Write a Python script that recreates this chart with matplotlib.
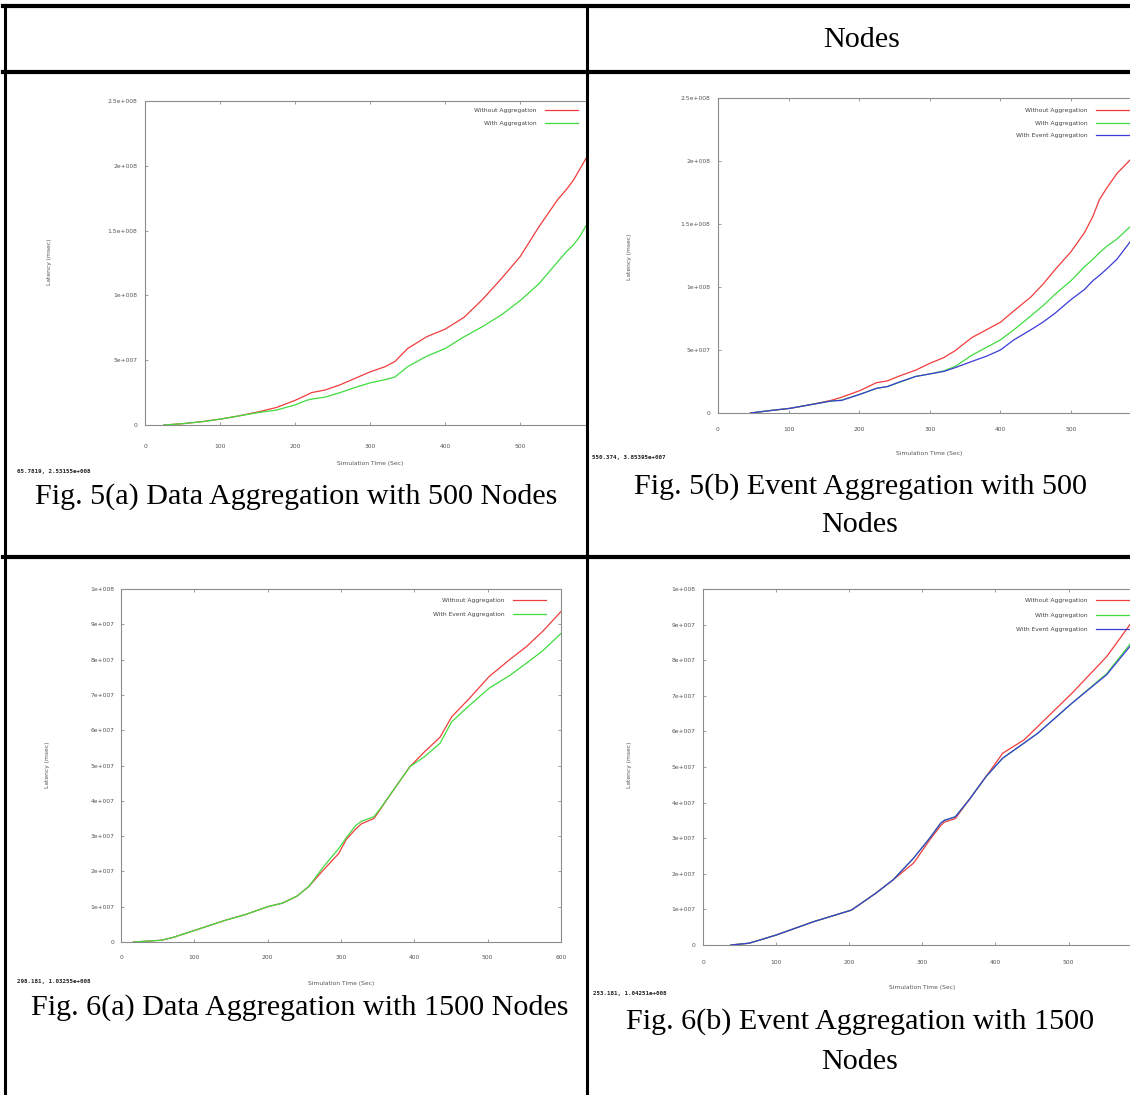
import matplotlib
matplotlib.use('Agg')
import matplotlib.pyplot as plt
from matplotlib.lines import Line2D

# ---- data (latency in units of 1e7 msec) ----
t_5a = [25, 50, 75, 100, 125, 150, 175, 200, 215, 222, 240, 260, 280, 300, 320, 333,
        350, 375, 400, 425, 450, 475, 500, 525, 550, 562, 571, 580, 589]
without_5a = [0, 0.1, 0.25, 0.45, 0.7, 1.0, 1.35, 1.9, 2.3, 2.5, 2.7, 3.1, 3.6, 4.1, 4.5, 4.9,
              5.9, 6.8, 7.4, 8.3, 9.7, 11.3, 13.0, 15.3, 17.4, 18.2, 18.9, 19.8, 20.7]
with_5a = [0, 0.1, 0.25, 0.45, 0.7, 0.95, 1.15, 1.55, 1.9, 2.0, 2.15, 2.5, 2.9, 3.25, 3.5, 3.7,
           4.5, 5.3, 5.9, 6.8, 7.6, 8.5, 9.6, 10.9, 12.6, 13.4, 13.9, 14.6, 15.5]

t_5b = [46, 75, 102, 130, 160, 175, 202, 224, 240, 258, 280, 300, 320, 336, 360, 380,
        400, 419, 443, 460, 477, 500, 519, 531, 540, 550, 565, 584]
without_5b = [0, 0.2, 0.37, 0.65, 1.0, 1.25, 1.8, 2.4, 2.55, 2.96, 3.4, 3.94, 4.4, 4.95, 6.0, 6.6,
              7.2, 8.1, 9.2, 10.2, 11.35, 12.8, 14.3, 15.6, 16.9, 17.8, 19.0, 20.1]
with_5b = [0, 0.2, 0.37, 0.65, 0.95, 1.02, 1.5, 1.95, 2.1, 2.45, 2.9, 3.1, 3.35, 3.7, 4.6, 5.2,
           5.8, 6.6, 7.7, 8.5, 9.4, 10.5, 11.6, 12.2, 12.7, 13.2, 13.8, 14.8]
event_5b = [0, 0.2, 0.37, 0.65, 0.95, 1.0, 1.5, 1.95, 2.1, 2.48, 2.9, 3.1, 3.3, 3.6, 4.1, 4.5,
            5.0, 5.8, 6.6, 7.2, 7.9, 9.0, 9.8, 10.5, 10.9, 11.4, 12.2, 13.6]

t_6a = [17, 40, 55, 71, 102, 143, 170, 200, 220, 240, 256, 276, 297, 307, 320, 328, 345,
        355, 368, 394, 414, 435, 451, 475, 502, 530, 553, 575, 600]
without_6a = [0, 0.03, 0.05, 0.13, 0.34, 0.62, 0.78, 1.0, 1.1, 1.3, 1.57, 2.04, 2.51, 2.9, 3.2,
              3.35, 3.5, 3.8, 4.2, 4.97, 5.39, 5.8, 6.38, 6.9, 7.52, 8.0, 8.37, 8.8, 9.36]
event_6a = [0, 0.03, 0.05, 0.13, 0.34, 0.62, 0.78, 1.0, 1.1, 1.3, 1.57, 2.13, 2.65, 2.95, 3.3,
            3.42, 3.55, 3.82, 4.2, 4.97, 5.25, 5.63, 6.24, 6.7, 7.19, 7.55, 7.9, 8.25, 8.74]

t_6b = [38, 63, 81, 100, 152, 203, 236, 260, 288, 310, 325, 330, 345, 364, 387, 410, 439,
        458, 505, 552, 584]
without_6b = [0, 0.05, 0.16, 0.28, 0.66, 0.98, 1.45, 1.83, 2.3, 2.95, 3.35, 3.45, 3.55, 4.08,
              4.73, 5.39, 5.76, 6.14, 7.08, 8.1, 9.0]
with_6b = [0, 0.05, 0.16, 0.28, 0.66, 0.98, 1.45, 1.83, 2.44, 3.0, 3.42, 3.5, 3.6, 4.08,
           4.73, 5.25, 5.67, 5.95, 6.8, 7.62, 8.45]
event_6b = [0, 0.05, 0.16, 0.28, 0.66, 0.98, 1.45, 1.83, 2.44, 3.0, 3.42, 3.5, 3.6, 4.08,
            4.73, 5.25, 5.67, 5.95, 6.8, 7.59, 8.39]

ticks_5 = [0, 5, 10, 15, 20, 25]
ticklabels_5 = ["0", "5e+007", "1e+008", "1.5e+008", "2e+008", "2.5e+008"]
ticks_6 = list(range(0, 11))
ticklabels_6 = ["0"] + ["%de+007" % i for i in range(1, 10)] + ["1e+008"]

RED, GREEN, BLUE = '#f03c3c', '#3fdc3f', '#3b3bd6'

W, H = 1130, 1095
fig = plt.figure(figsize=(W / 100, H / 100), dpi=100)


def fx(x):
    return x / W


def fy(y):
    return 1 - y / H


def panel(x0, top, x1, bottom, xmax, ymax, yticks, yticklabels, xticks, full,
          xpad, ypad, series, leg_x, leg_y, leg_space):
    ax = fig.add_axes([fx(x0), fy(bottom), (x1 - x0) / W, (bottom - top) / H])
    for t, v, c, lab in series:
        ax.plot(t, v, color=c, lw=0.9, label=lab)
    ax.set_xlim(0, xmax)
    ax.set_ylim(0, ymax)
    ax.set_xticks(xticks)
    ax.set_yticks(yticks)
    ax.set_yticklabels(yticklabels)
    for s in ax.spines.values():
        s.set_color('#8c8c8c')
        s.set_linewidth(0.8)
    ax.spines['right'].set_visible(full)
    ax.tick_params(direction='in', length=2.5, width=0.6, color='#8c8c8c',
                   labelsize=4.3, labelcolor='#555555', top=True, right=full)
    ax.tick_params(axis='x', pad=xpad)
    ax.tick_params(axis='y', pad=ypad)
    ax.legend(loc='upper right', bbox_to_anchor=(fx(leg_x), fy(leg_y)),
              bbox_transform=fig.transFigure, markerfirst=False, frameon=False,
              fontsize=4.3, handlelength=5.6, handletextpad=1.3,
              labelspacing=leg_space, borderpad=0, borderaxespad=0,
              labelcolor='#444444')
    return ax


panel(145, 101, 587, 425, 589, 25, ticks_5, ticklabels_5, [0, 100, 200, 300, 400, 500],
      False, 14, 5.5,
      [(t_5a, without_5a, RED, 'Without Aggregation'),
       (t_5a, with_5a, GREEN, 'With Aggregation')], 578, 108, 1.25)

panel(718, 98, 1130, 413, 583.6, 25, ticks_5, ticklabels_5, [0, 100, 200, 300, 400, 500],
      False, 10, 5.5,
      [(t_5b, without_5b, RED, 'Without Aggregation'),
       (t_5b, with_5b, GREEN, 'With Aggregation'),
       (t_5b, event_5b, BLUE, 'With Event Aggregation')], 1129, 108, 1.25)

panel(121, 589, 561, 942, 600, 10, ticks_6, ticklabels_6,
      [0, 100, 200, 300, 400, 500, 600], True, 9.5, 4.5,
      [(t_6a, without_6a, RED, 'Without Aggregation'),
       (t_6a, event_6a, GREEN, 'With Event Aggregation')], 546, 598, 1.5)

panel(703, 589, 1130, 945, 584, 10, ticks_6, ticklabels_6, [0, 100, 200, 300, 400, 500],
      False, 11, 5.5,
      [(t_6b, without_6b, RED, 'Without Aggregation'),
       (t_6b, with_6b, GREEN, 'With Aggregation'),
       (t_6b, event_6b, BLUE, 'With Event Aggregation')], 1129, 598, 1.55)

# axis titles and gnuplot cursor readouts
small = dict(fontsize=4.3, color='#555555', ha='center', va='center')
for x, y in [(370, 464), (929, 453), (341, 984), (922, 988)]:
    fig.text(fx(x), fy(y), 'Simulation Time (Sec)', **small)
for x, y in [(49, 262), (630, 257), (48, 765), (630, 765)]:
    fig.text(fx(x), fy(y), 'Latency (msec)', rotation=90, **small)
mono = dict(fontsize=4.2, family='DejaVu Sans Mono', weight='bold', color='#222222',
            ha='left', va='center')
fig.text(fx(17), fy(471), '65.7819, 2.53155e+008', **mono)
fig.text(fx(592), fy(458), '550.374, 3.85395e+007', **mono)
fig.text(fx(17), fy(981), '298.181, 1.03255e+008', **mono)
fig.text(fx(593), fy(994), '253.181, 1.04251e+008', **mono)

# captions
cap = dict(fontsize=21.7, family='Liberation Serif', color='black', ha='center', va='center')
fig.text(fx(862), fy(40), 'Nodes', **cap)
fig.text(fx(296), fy(497), 'Fig. 5(a) Data Aggregation with 500 Nodes', **cap)
fig.text(fx(860), fy(487), 'Fig. 5(b) Event Aggregation with 500', **cap)
fig.text(fx(860), fy(525), 'Nodes', **cap)
fig.text(fx(300), fy(1008), 'Fig. 6(a) Data Aggregation with 1500 Nodes', **cap)
fig.text(fx(860), fy(1022), 'Fig. 6(b) Event Aggregation with 1500', **cap)
fig.text(fx(860), fy(1062), 'Nodes', **cap)

# table borders
for xs, ys, w in [((3, 1130), (6, 6), 3.0),
                  ((3, 1130), (72, 72), 3.0),
                  ((3, 1130), (557, 557), 3.0),
                  ((5, 5), (5, 1095), 2.2),
                  ((587, 587), (5, 1095), 2.2)]:
    fig.add_artist(Line2D([fx(xs[0]), fx(xs[1])], [fy(ys[0]), fy(ys[1])],
                          transform=fig.transFigure, color='black', lw=w))

fig.savefig('out.png', dpi=100, facecolor='white')
